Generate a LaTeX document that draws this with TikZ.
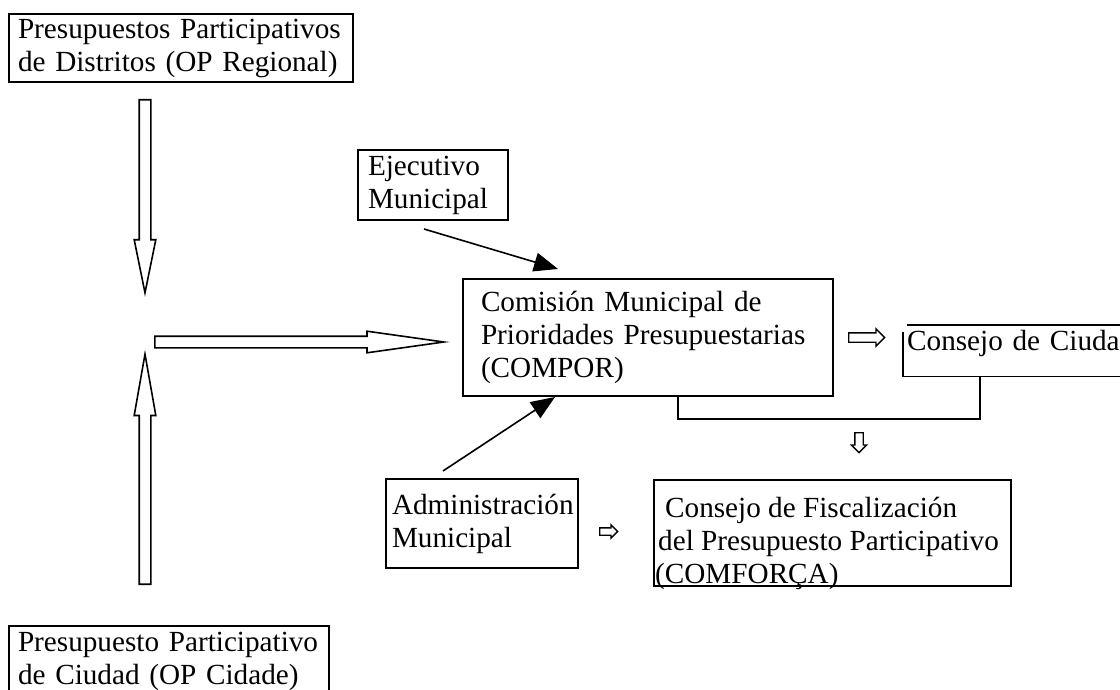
\documentclass[tikz,border=0pt]{standalone}
\usepackage{fontspec}
\setmainfont{Liberation Serif}
\usetikzlibrary{shapes.arrows, arrows.meta, positioning}
\tikzstyle{caja} = [draw, line width=2pt, anchor=north west, align=left, inner xsep=9pt, inner ysep=0pt]
\tikzstyle{bloque} = [single arrow, draw, line width=1.6pt, inner sep=5pt, minimum width=20pt, single arrow head extend=5pt, single arrow head indent=0pt]
\tikzstyle{chica} = [single arrow, draw, line width=1.4pt, inner sep=4pt, minimum width=16pt, single arrow head extend=4pt, single arrow head indent=0pt]
\tikzstyle{flecha} = [line width=1.6pt, -{Triangle[length=24pt, width=19pt]}]
\tikzstyle{linea} = [line width=1.6pt]

\begin{document}
\begin{tikzpicture}[x=1pt, y=-1pt, font=\fontsize{29.2}{33}\selectfont]
  \useasboundingbox (0,0) rectangle (1120,690);
  \fill[white] (0,0) rectangle (1120,690);
  \clip (0,0) rectangle (1120,690);

  % niveles del OP
  \node[caja, text width=326pt, minimum height=68pt] (distritos) at (8,13) {Presupuestos Participativos\\de Distritos (OP Regional)};
  \node[caja, text width=302pt, minimum height=71pt] (ciudad) at (8,625) {Presupuesto Participativo\\de Ciudad (OP Cidade)};

  % flechas huecas
  \node[bloque, shape border rotate=270, minimum height=193pt, single arrow tip angle=23, anchor=tail] (bajada) at (145,99) {};
  \node[bloque, shape border rotate=90, minimum height=230pt, single arrow tip angle=20, anchor=tail] (subida) at (145,585) {};
  \node[bloque, minimum height=289pt, single arrow tip angle=16, anchor=tail] (entrada) at (154,342) {};

  % comisiones
  \node[caja, text width=130pt, inner xsep=10pt, minimum height=70pt] (ejecutivo) at (357,149) {Ejecutivo\\Municipal};
  \node[caja, text width=334pt, inner xsep=18pt, minimum height=117pt] (compor) at (462,278) {Comisión Municipal de\\Prioridades Presupuestarias\\(COMPOR)};
  \node[caja, text width=180pt, inner xsep=6pt, minimum height=89pt] (admin) at (385,478) {Administración\\Municipal};
  \node[caja, minimum width=357pt, minimum height=106pt] (fiscal) at (653,479) {};
  \node[anchor=north west, align=left, inner sep=0pt] (fiscaltxt) at (655,497) {\hspace*{10pt}Consejo de Fiscalización\\\hspace*{3pt}del Presupuesto Participativo\\(COMFORÇA)};

  % Consejo de Ciudad
  \node[anchor=north west, text width=300pt, align=left, inner xsep=4pt, inner ysep=0pt, minimum height=51pt, text height=14pt, text depth=14pt] (consejo) at (903,325) {Consejo de Ciudad};
  \draw[linea] ([xshift=4pt]consejo.north west) -- (consejo.north east);
  \draw[linea] ([yshift=-7pt]consejo.north west) -- (consejo.south west) -- (consejo.south east);

  % conexiones
  \draw[flecha] ([xshift=-9pt, yshift=-8pt]ejecutivo.south) -- ([xshift=96pt, yshift=9pt]compor.north west);
  \draw[flecha] ([xshift=-39pt, yshift=7pt]admin.north) -- ([xshift=93pt]compor.south west);
  \draw[linea] ([xshift=216pt]compor.south west) -- ++(0,22) -| ([xshift=77pt]consejo.south west);

  % flechas chicas
  \node[chica, minimum height=36pt, anchor=tail] (aconsejo) at ([xshift=14pt]compor.east) {};
  \node[chica, inner sep=3pt, minimum height=18pt, minimum width=12pt, single arrow head extend=3pt, anchor=tail] (afiscal) at ([xshift=20pt, yshift=-8pt]admin.east) {};
  \node[chica, inner sep=3.5pt, minimum width=14pt, single arrow head extend=3.5pt, shape border rotate=270, minimum height=20pt, anchor=tail] (abajo) at (859,432) {};
\end{tikzpicture}
\end{document}
